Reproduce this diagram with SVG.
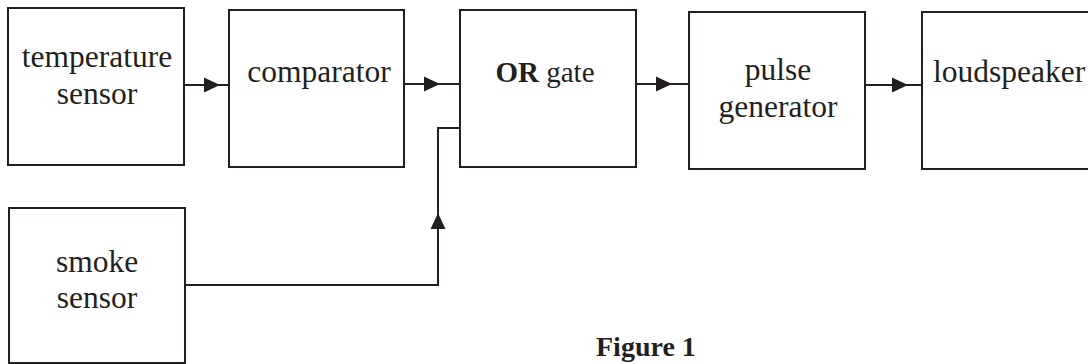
<svg xmlns="http://www.w3.org/2000/svg" width="1088" height="364" viewBox="0 0 1088 364">
<style>
.box{fill:#fff;stroke:#231f20;stroke-width:2}
.lbl{font-family:"Liberation Serif","Times New Roman",serif;font-size:31.5px;fill:#231f20;text-anchor:middle}
.conn{fill:none;stroke:#231f20;stroke-width:2}
.arr{marker-mid:url(#ah)}
</style>
<defs>
<marker id="ah" markerUnits="userSpaceOnUse" markerWidth="17" markerHeight="17" refX="16" refY="8" orient="auto">
<path d="M0,0.5 L16,8 L0,15.5 z" fill="#231f20"/>
</marker>
</defs>
<rect width="1088" height="364" fill="#fff"/>
<g id="temperature-sensor">
<rect class="box" x="8" y="8" width="176" height="157"/>
<text class="lbl" x="97" y="67">temperature</text>
<text class="lbl" x="97" y="104">sensor</text>
</g>
<g id="comparator">
<rect class="box" x="229" y="10" width="175" height="157"/>
<text class="lbl" x="319" y="82">comparator</text>
</g>
<g id="or-gate">
<rect class="box" x="460" y="10" width="176" height="157"/>
<text class="lbl" x="545" y="82" style="font-size:29px"><tspan font-weight="bold">OR</tspan> gate</text>
</g>
<g id="pulse-generator">
<rect class="box" x="689" y="12" width="176" height="157"/>
<text class="lbl" x="778" y="80">pulse</text>
<text class="lbl" x="778" y="117">generator</text>
</g>
<g id="loudspeaker">
<rect class="box" x="922" y="12" width="180" height="157"/>
<text class="lbl" x="933" y="82" style="text-anchor:start">loudspeaker</text>
</g>
<g id="smoke-sensor">
<rect class="box" x="9" y="208" width="176" height="155"/>
<text class="lbl" x="97" y="272">smoke</text>
<text class="lbl" x="97" y="308">sensor</text>
</g>
<g id="connectors">
<path class="conn arr" d="M184 85 L220 85 L229 85"/>
<path class="conn arr" d="M404 84 L440 84 L460 84"/>
<path class="conn arr" d="M636 84 L672 84 L689 84"/>
<path class="conn arr" d="M865 85 L908 85 L922 85"/>
<path class="conn" d="M185 285 L438 285 L438 128 L460 128"/>
<path class="conn arr" d="M438 240 L438 213 L438 200"/>
</g>
<text id="caption" x="596" y="356" style="font-family:'Liberation Serif','Times New Roman',serif;font-size:28px;font-weight:bold;fill:#231f20">Figure 1</text>
</svg>
